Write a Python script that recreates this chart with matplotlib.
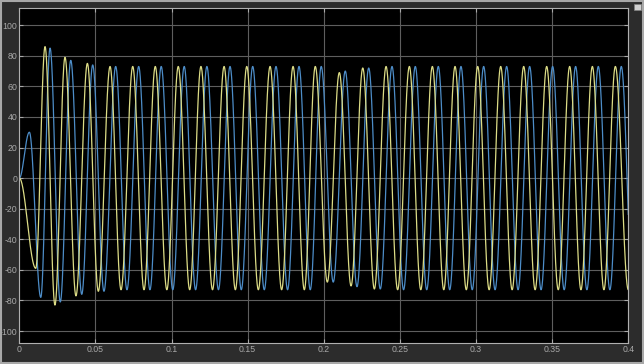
import matplotlib
matplotlib.use("Agg")
import matplotlib.pyplot as plt
import numpy as np
from matplotlib.patches import Rectangle

# Extrema (time in s, value)
yellow_t = [0.0, 0.0108, 0.0169, 0.0234, 0.0300, 0.0372, 0.0447, 0.0519, 0.0596,
            0.0668, 0.0745, 0.0819, 0.0893, 0.0969, 0.1044, 0.1119, 0.1193, 0.1269,
            0.1345, 0.1419, 0.1494, 0.1570, 0.1647, 0.1723, 0.1798, 0.1872, 0.1944,
            0.2023, 0.2102, 0.2179, 0.2256, 0.2332, 0.2409, 0.2485, 0.2562, 0.2637,
            0.2713, 0.2788, 0.2862, 0.2936, 0.3011, 0.3086, 0.3162, 0.3237, 0.3313,
            0.3388, 0.3464, 0.3540, 0.3615, 0.3689, 0.3764, 0.3840, 0.3915, 0.4000,
            0.4075]
yellow_v = [0, -59, 86, -83, 79, -77, 75, -74, 73,
            -73, 73, -73, 73, -73, 73, -73, 73, -73,
            73, -73, 73, -73, 73, -73, 73, -73, 73,
            -68, 69, -70.5, 72, -72.5, 73, -73, 73, -73,
            73, -73, 73, -73, 73, -73, 73, -73, 73,
            -73, 73, -73, 73, -73, 73, -73, 73, -73,
            73]

blue_t = [0.0, 0.0066, 0.0141, 0.0202, 0.0269, 0.0338, 0.0410, 0.0482, 0.0556,
          0.0633, 0.0707, 0.0784, 0.0858, 0.0932, 0.1008, 0.1083, 0.1158, 0.1232,
          0.1308, 0.1384, 0.1458, 0.1533, 0.1609, 0.1686, 0.1762, 0.1837, 0.1911,
          0.1983, 0.2062, 0.2141, 0.2218, 0.2295, 0.2371, 0.2448, 0.2524, 0.2601,
          0.2676, 0.2752, 0.2827, 0.2901, 0.2975, 0.3050, 0.3125, 0.3201, 0.3276,
          0.3352, 0.3427, 0.3503, 0.3579, 0.3654, 0.3728, 0.3803, 0.3879, 0.3954,
          0.4030]
blue_v = [0, 30, -78, 85, -81, 77, -76, 74, -74,
          73, -73, 73, -73, 73, -73, 73, -73, 73,
          -73, 73, -73, 73, -73, 73, -73, 73, -73,
          73, -68, 70, -71, 72, -72.5, 73, -73, 73,
          -73, 73, -73, 73, -73, 73, -73, 73, -73,
          73, -73, 73, -73, 73, -73, 73, -73, 73,
          -73]

x_ticks = [0, 0.05, 0.1, 0.15, 0.2, 0.25, 0.3, 0.35, 0.4]
x_labels = ["0", "0.05", "0.1", "0.15", "0.2", "0.25", "0.3", "0.35", "0.4"]
y_ticks = [-100, -80, -60, -40, -20, 0, 20, 40, 60, 80, 100]


def trace(ext_t, ext_v, t):
    # smooth half-cosine swing between successive extrema
    ext_t = np.asarray(ext_t)
    ext_v = np.asarray(ext_v, dtype=float)
    i = np.clip(np.searchsorted(ext_t, t, side="right") - 1, 0, len(ext_t) - 2)
    u = (t - ext_t[i]) / (ext_t[i + 1] - ext_t[i])
    return ext_v[i] + (ext_v[i + 1] - ext_v[i]) * (1 - np.cos(np.pi * u)) / 2


t = np.linspace(0, 0.4, 6000)

plt.rcParams["font.family"] = ["Liberation Sans", "DejaVu Sans"]
plt.rcParams["axes.unicode_minus"] = False

fig = plt.figure(figsize=(6.44, 3.64), dpi=100, facecolor="#2c2c2c")
ax = fig.add_axes([0.030, 0.057, 0.9456, 0.920])
ax.set_facecolor("black")

ax.plot(t, trace(blue_t, blue_v, t), color="#4d8dc8", lw=0.9)
ax.plot(t, trace(yellow_t, yellow_v, t), color="#dcdc86", lw=0.9)

ax.set_xlim(0, 0.4)
ax.set_ylim(-108, 111)
ax.set_xticks(x_ticks)
ax.set_xticklabels(x_labels)
ax.set_yticks(y_ticks)
ax.grid(True, color="#5e5e5e", lw=0.8)
ax.tick_params(direction="in", length=3, colors="#a8a8a8", labelsize=6.3,
               top=True, right=True, pad=1.5)
for s in ax.spines.values():
    s.set_color("#b0b0b0")
    s.set_linewidth(0.8)

# window frame (behind the axes) and the little button in the corner
frame = Rectangle((0.0015, 0.003), 0.997, 0.994, transform=fig.transFigure,
                  fill=False, edgecolor="#a8a8a8", lw=1.5, zorder=-1)
fig.patches.append(frame)
fig.patches.append(Rectangle((0.984, 0.972), 0.012, 0.018, transform=fig.transFigure,
                             facecolor="#d0d0d0", edgecolor="#808080", lw=0.5))

fig.savefig("out.png", dpi=100, facecolor=fig.get_facecolor())
